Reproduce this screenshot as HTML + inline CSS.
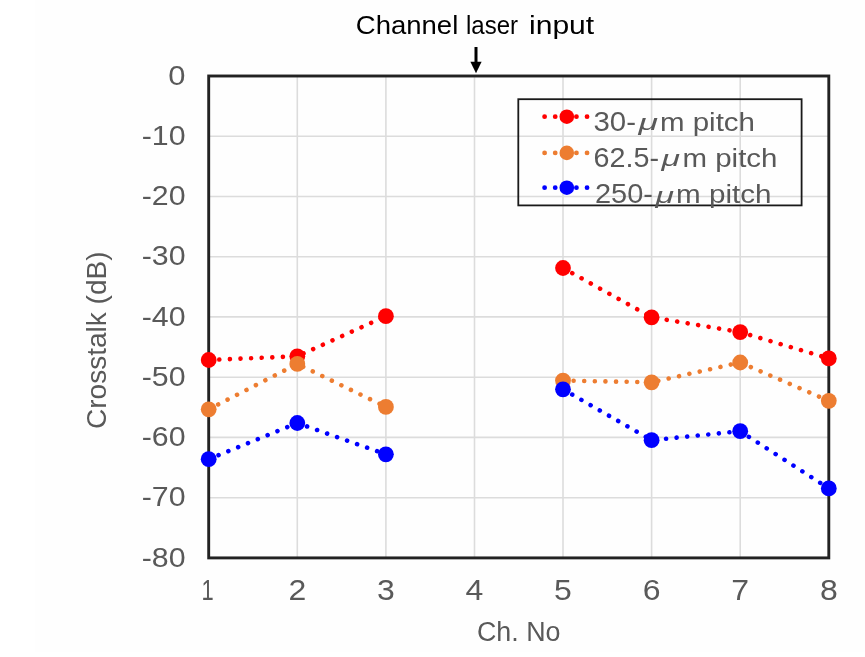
<!DOCTYPE html>
<html lang="en"><head><meta charset="utf-8"><title>Crosstalk chart</title>
<style>html,body{margin:0;padding:0;background:#fff;}body{width:865px;height:657px;overflow:hidden;}svg{display:block;filter:blur(0.55px);}text{font-family:"Liberation Sans","Noto Sans CJK JP",sans-serif;}</style></head><body>
<svg width="865" height="657" viewBox="0 0 865 657">
<rect x="0" y="0" width="865" height="657" fill="#ffffff"/>
<rect x="35" y="0" width="830" height="652" fill="#fefefe"/>
<g stroke="#dcdcdc" stroke-width="1.6" fill="none">
<line x1="297.3" y1="76.0" x2="297.3" y2="557.9"/>
<line x1="385.9" y1="76.0" x2="385.9" y2="557.9"/>
<line x1="474.5" y1="76.0" x2="474.5" y2="557.9"/>
<line x1="563.0" y1="76.0" x2="563.0" y2="557.9"/>
<line x1="651.6" y1="76.0" x2="651.6" y2="557.9"/>
<line x1="740.2" y1="76.0" x2="740.2" y2="557.9"/>
<line x1="208.7" y1="497.7" x2="828.8" y2="497.7"/>
<line x1="208.7" y1="437.4" x2="828.8" y2="437.4"/>
<line x1="208.7" y1="377.2" x2="828.8" y2="377.2"/>
<line x1="208.7" y1="316.9" x2="828.8" y2="316.9"/>
<line x1="208.7" y1="256.7" x2="828.8" y2="256.7"/>
<line x1="208.7" y1="196.5" x2="828.8" y2="196.5"/>
<line x1="208.7" y1="136.2" x2="828.8" y2="136.2"/>
</g>
<rect x="208.7" y="76.0" width="620.1" height="481.9" fill="none" stroke="#222222" stroke-width="2.9"/>
<path d="M208.7 360.0 L297.3 356.3 L385.9 316.2" fill="none" stroke="#ff0000" stroke-width="4.6" stroke-linecap="round" stroke-dasharray="0.01 10.6"/>
<path d="M563.0 268.0 L651.6 317.3 L740.2 332.1 L828.8 358.4" fill="none" stroke="#ff0000" stroke-width="4.6" stroke-linecap="round" stroke-dasharray="0.01 10.6"/>
<circle cx="208.7" cy="360.0" r="7.9" fill="#ff0000"/>
<circle cx="297.3" cy="356.3" r="7.9" fill="#ff0000"/>
<circle cx="385.9" cy="316.2" r="7.9" fill="#ff0000"/>
<circle cx="563.0" cy="268.0" r="7.9" fill="#ff0000"/>
<circle cx="651.6" cy="317.3" r="7.9" fill="#ff0000"/>
<circle cx="740.2" cy="332.1" r="7.9" fill="#ff0000"/>
<circle cx="828.8" cy="358.4" r="7.9" fill="#ff0000"/>
<path d="M208.7 409.3 L297.3 363.9 L385.9 406.9" fill="none" stroke="#ed7d31" stroke-width="4.6" stroke-linecap="round" stroke-dasharray="0.01 10.6"/>
<path d="M563.0 380.6 L651.6 382.3 L740.2 362.5 L828.8 400.8" fill="none" stroke="#ed7d31" stroke-width="4.6" stroke-linecap="round" stroke-dasharray="0.01 10.6"/>
<circle cx="208.7" cy="409.3" r="7.9" fill="#ed7d31"/>
<circle cx="297.3" cy="363.9" r="7.9" fill="#ed7d31"/>
<circle cx="385.9" cy="406.9" r="7.9" fill="#ed7d31"/>
<circle cx="563.0" cy="380.6" r="7.9" fill="#ed7d31"/>
<circle cx="651.6" cy="382.3" r="7.9" fill="#ed7d31"/>
<circle cx="740.2" cy="362.5" r="7.9" fill="#ed7d31"/>
<circle cx="828.8" cy="400.8" r="7.9" fill="#ed7d31"/>
<path d="M208.7 459.2 L297.3 423.0 L385.9 454.3" fill="none" stroke="#0000ff" stroke-width="4.6" stroke-linecap="round" stroke-dasharray="0.01 10.6"/>
<path d="M563.0 389.3 L651.6 440.2 L740.2 431.2 L828.8 488.4" fill="none" stroke="#0000ff" stroke-width="4.6" stroke-linecap="round" stroke-dasharray="0.01 10.6"/>
<circle cx="208.7" cy="459.2" r="7.9" fill="#0000ff"/>
<circle cx="297.3" cy="423.0" r="7.9" fill="#0000ff"/>
<circle cx="385.9" cy="454.3" r="7.9" fill="#0000ff"/>
<circle cx="563.0" cy="389.3" r="7.9" fill="#0000ff"/>
<circle cx="651.6" cy="440.2" r="7.9" fill="#0000ff"/>
<circle cx="740.2" cy="431.2" r="7.9" fill="#0000ff"/>
<circle cx="828.8" cy="488.4" r="7.9" fill="#0000ff"/>
<rect x="518.3" y="99.2" width="283.3" height="106.2" fill="none" stroke="#1a1a1a" stroke-width="1.8"/>
<path d="M544.6 116.7 H590" fill="none" stroke="#ff0000" stroke-width="4.8" stroke-linecap="round" stroke-dasharray="0.01 10.6"/>
<circle cx="566.8" cy="116.7" r="7.3" fill="#ff0000"/>
<text x="593.5" y="131.0" fill="#595959" font-size="27.5" textLength="42.5" lengthAdjust="spacingAndGlyphs">30-</text>
<text x="638.5" y="130.4" fill="#595959" font-size="22.5" font-style="italic" textLength="19.5" lengthAdjust="spacingAndGlyphs">μ</text>
<text x="660.0" y="131.0" fill="#595959" font-size="25" textLength="95.0" lengthAdjust="spacingAndGlyphs">m pitch</text>
<path d="M544.6 152.9 H590" fill="none" stroke="#ed7d31" stroke-width="4.8" stroke-linecap="round" stroke-dasharray="0.01 10.6"/>
<circle cx="566.8" cy="152.9" r="7.3" fill="#ed7d31"/>
<text x="593.5" y="166.8" fill="#595959" font-size="27.5" textLength="65.5" lengthAdjust="spacingAndGlyphs">62.5-</text>
<text x="661.5" y="166.2" fill="#595959" font-size="22.5" font-style="italic" textLength="18.5" lengthAdjust="spacingAndGlyphs">μ</text>
<text x="682.5" y="166.8" fill="#595959" font-size="25" textLength="95.0" lengthAdjust="spacingAndGlyphs">m pitch</text>
<path d="M544.6 187.7 H590" fill="none" stroke="#0000ff" stroke-width="4.8" stroke-linecap="round" stroke-dasharray="0.01 10.6"/>
<circle cx="566.8" cy="187.7" r="7.3" fill="#0000ff"/>
<text x="595.0" y="203.2" fill="#595959" font-size="27.5" textLength="58.0" lengthAdjust="spacingAndGlyphs">250-</text>
<text x="655.5" y="202.6" fill="#595959" font-size="22.5" font-style="italic" textLength="18.5" lengthAdjust="spacingAndGlyphs">μ</text>
<text x="676.0" y="203.2" fill="#595959" font-size="25" textLength="95.5" lengthAdjust="spacingAndGlyphs">m pitch</text>
<text x="168.3" y="84.7" fill="#595959" font-size="28.2" textLength="17.2" lengthAdjust="spacingAndGlyphs">0</text>
<text x="141.7" y="144.9" fill="#595959" font-size="28.2" textLength="43.8" lengthAdjust="spacingAndGlyphs">-10</text>
<text x="141.7" y="205.2" fill="#595959" font-size="28.2" textLength="43.8" lengthAdjust="spacingAndGlyphs">-20</text>
<text x="141.7" y="265.4" fill="#595959" font-size="28.2" textLength="43.8" lengthAdjust="spacingAndGlyphs">-30</text>
<text x="141.7" y="325.6" fill="#595959" font-size="28.2" textLength="43.8" lengthAdjust="spacingAndGlyphs">-40</text>
<text x="141.7" y="385.9" fill="#595959" font-size="28.2" textLength="43.8" lengthAdjust="spacingAndGlyphs">-50</text>
<text x="141.7" y="446.1" fill="#595959" font-size="28.2" textLength="43.8" lengthAdjust="spacingAndGlyphs">-60</text>
<text x="141.7" y="506.4" fill="#595959" font-size="28.2" textLength="43.8" lengthAdjust="spacingAndGlyphs">-70</text>
<text x="141.7" y="566.6" fill="#595959" font-size="28.2" textLength="43.8" lengthAdjust="spacingAndGlyphs">-80</text>
<text x="201.6" y="600" fill="#595959" font-size="29" textLength="12.2" lengthAdjust="spacingAndGlyphs">1</text>
<text x="288.4" y="600" fill="#595959" font-size="29" textLength="17.8" lengthAdjust="spacingAndGlyphs">2</text>
<text x="377.0" y="600" fill="#595959" font-size="29" textLength="17.8" lengthAdjust="spacingAndGlyphs">3</text>
<text x="465.6" y="600" fill="#595959" font-size="29" textLength="17.8" lengthAdjust="spacingAndGlyphs">4</text>
<text x="554.1" y="600" fill="#595959" font-size="29" textLength="17.8" lengthAdjust="spacingAndGlyphs">5</text>
<text x="642.7" y="600" fill="#595959" font-size="29" textLength="17.8" lengthAdjust="spacingAndGlyphs">6</text>
<text x="731.3" y="600" fill="#595959" font-size="29" textLength="17.8" lengthAdjust="spacingAndGlyphs">7</text>
<text x="819.9" y="600" fill="#595959" font-size="29" textLength="17.8" lengthAdjust="spacingAndGlyphs">8</text>
<text x="477" y="640.9" fill="#595959" font-size="28.4" textLength="83.5" lengthAdjust="spacingAndGlyphs">Ch. No</text>
<text transform="translate(106.2 429) rotate(-90)" fill="#595959" font-size="28.4" textLength="177.5" lengthAdjust="spacingAndGlyphs">Crosstalk (dB)</text>
<text x="355.8" y="34" fill="#000" font-size="26.3" textLength="102.5" lengthAdjust="spacingAndGlyphs">Channel</text>
<text x="466.0" y="34" fill="#000" font-size="26.3" textLength="52.0" lengthAdjust="spacingAndGlyphs">laser</text>
<text x="529.0" y="34" fill="#000" font-size="26.3" textLength="65.2" lengthAdjust="spacingAndGlyphs">input</text>
<path d="M476 47 V66" stroke="#000" stroke-width="3" fill="none"/><path d="M470.4 61.8 L476 73.2 L481.6 61.8 Z" fill="#000"/>
</svg></body></html>
